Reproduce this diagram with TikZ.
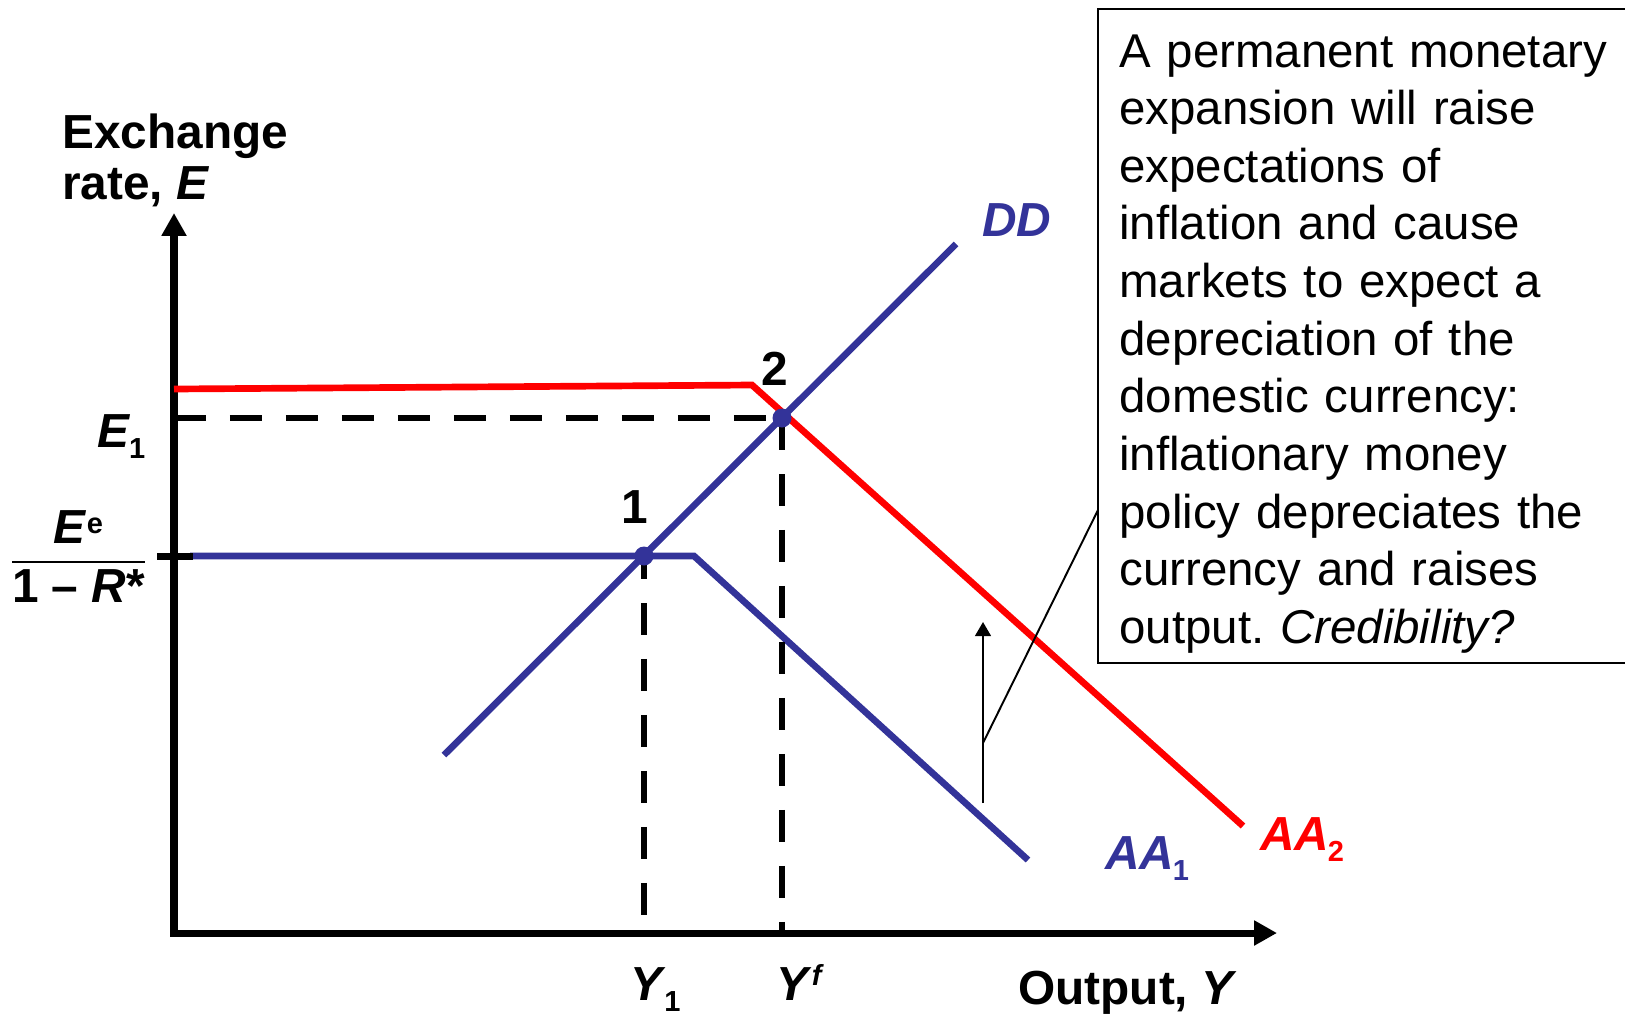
\documentclass[tikz,border=0pt]{standalone}
\usepackage{amsmath}
\usepackage{fontspec}
\setmainfont{Liberation Sans}
\usepackage{xcolor}
\usetikzlibrary{arrows.meta}

\definecolor{aablue}{RGB}{51,51,153}
\definecolor{aared}{RGB}{255,0,0}

\newcommand{\subtxt}[1]{\kern-0.8pt\raisebox{-6.3pt}{\fontsize{16.5}{16.5}\selectfont #1}}
\newcommand{\suptxt}[2][5.7pt]{\raisebox{#1}{\fontsize{16.5}{16.5}\selectfont #2}}
\frenchspacing

\begin{document}
\begin{tikzpicture}[x=0.02cm, y=-0.02cm,
    curve/.style={line width=3.8pt},
    guide/.style={line width=3.8pt, dash pattern=on 0.64cm off 0.48cm},
    lbl/.style={font=\fontsize{27.2}{28.5}\selectfont\bfseries, inner sep=0pt},
    thinline/.style={line width=1.1pt}]
    \useasboundingbox (0,0) rectangle (1625,1015);

    % axes
    \coordinate (O) at (174,933);
    \coordinate (Etop) at (174,213);
    \coordinate (Yend) at (1277,933);
    \draw[line width=4pt, {Triangle[width=13.5pt,length=13pt]}-{Triangle[width=13.5pt,length=13pt]}] (Etop) -- (O) -- (Yend);

    % schedules
    \coordinate (A2s) at (174,389);
    \coordinate (A2k) at (752,385);
    \coordinate (A2e) at (1243,826);
    \coordinate (A1s) at (190,556);
    \coordinate (A1k) at (694,556);
    \coordinate (A1e) at (1028,860);
    \coordinate (Ds) at (444,755);
    \coordinate (De) at (956,244);
    \coordinate (pt1) at (644,556);
    \coordinate (pt2) at (782,418);

    \draw[curve, aared] (A2s) -- (A2k) -- (A2e);
    \draw[curve, aablue] (A1s) -- (A1k) -- (A1e);
    \draw[curve, aablue] (Ds) -- (De);
    \draw[line width=4pt] (157,556) -- (193,556);

    % guides
    \draw[guide] (O |- pt2) -- (pt2);
    \draw[guide] (pt2) -- (pt2 |- O);
    \draw[guide, dash phase=0.18cm] (pt1) -- (pt1 |- O);

    \foreach \p in {pt1, pt2}{
        \fill[aablue] (\p) circle (9.5);
    }

    % labels
    \node[lbl, anchor=base west, align=left] (elab) at (62,199) {Exchange\\rate, \textit{E}};
    \node[lbl, anchor=base west] (olab) at (1018,1004) {Output,\ \textit{Y}};
    \node[lbl, anchor=base west] (e1) at (97,447) {\textit{E}\subtxt{1}};
    \node[lbl, anchor=base] (ratio) at (78.5,573) {$\displaystyle\genfrac{}{}{1.1pt}{0}{\text{\textit{E}\suptxt{e}}}{\text{1 – \textit{R}*}}$};
    \node[lbl, anchor=base west] (y1) at (630,1000) {\textit{Y}\subtxt{1}};
    \node[lbl, anchor=base west] (yf) at (776,1000) {\textit{Y}\suptxt[8pt]{\textit{f}}};
    \node[lbl, anchor=base] (n1) at (635,523) {1};
    \node[lbl, anchor=base] (n2) at (775,385) {2};
    \node[lbl, anchor=base west, aablue] (dd) at (982,236) {\textit{DD}};
    \node[lbl, anchor=base west, aablue] (aa1) at (1105,869) {\textit{AA}\subtxt{1}};
    \node[lbl, anchor=base west, aared] (aa2) at (1260,850) {\textit{AA}\subtxt{2}};

    % note box and callout
    \node[draw, thinline, anchor=north west, inner sep=0pt, outer sep=0pt,
          minimum width=10.84cm, minimum height=13.08cm] (note) at (1098,9) {};
    \node[anchor=base west, inner sep=0pt, text width=10cm, align=left,
          font=\fontsize{27}{32.8}\selectfont] (notetext) at (1119,67)
        {A permanent monetary\\expansion will raise\\expectations of\\inflation and cause\\markets to expect a\\depreciation of the\\domestic currency:\\inflationary money\\policy depreciates the\\currency and raises\\output. \textit{Credibility?}};

    \coordinate (shiftfoot) at (983,803);
    \coordinate (shifthead) at (983,622);
    \coordinate (callfoot) at (983,743);
    \coordinate (callhead) at (1098,510);
    \draw[thinline, -{Triangle[width=9pt,length=8pt]}] (shiftfoot) -- (shifthead);
    \draw[thinline] (callfoot) -- (callhead);
\end{tikzpicture}
\end{document}
